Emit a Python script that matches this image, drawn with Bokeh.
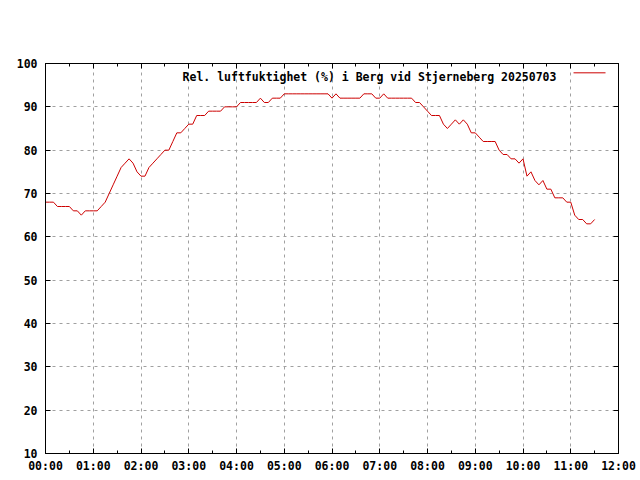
from bokeh.plotting import figure
from bokeh.models import Range1d, FixedTicker, LinearAxis, Label, Arrow, ColumnDataSource
from bokeh.embed import file_html
from bokeh.resources import INLINE

# ---- data (one reading every 5 minutes from 00:00) ----
humidity = [
    68, 68, 68, 67, 67, 67, 67, 66, 66, 65,
    66, 66, 66, 66, 67, 68, 70, 72, 74, 76,
    77, 78, 77, 75, 74, 74, 76, 77, 78, 79,
    80, 80, 82, 84, 84, 85, 86, 86, 88, 88,
    88, 89, 89, 89, 89, 90, 90, 90, 90, 91,
    91, 91, 91, 91, 92, 91, 91, 92, 92, 92,
    93, 93, 93, 93, 93, 93, 93, 93, 93, 93,
    93, 93, 92, 93, 92, 92, 92, 92, 92, 92,
    93, 93, 93, 92, 92, 93, 92, 92, 92, 92,
    92, 92, 92, 91, 91, 90, 89, 88, 88, 88,
    86, 85, 86, 87, 86, 87, 86, 84, 84, 83,
    82, 82, 82, 82, 80, 79, 79, 78, 78, 77,
    78, 74, 75, 73, 72, 73, 71, 71, 69, 69,
    69, 68, 68, 65, 64, 64, 63, 63, 64,
]
step_minutes = 5
minutes = [i * step_minutes for i in range(len(humidity))]

x_ticks = [0, 60, 120, 180, 240, 300, 360, 420, 480, 540, 600, 660, 720]
x_tick_labels = ["00:00", "01:00", "02:00", "03:00", "04:00", "05:00", "06:00",
                 "07:00", "08:00", "09:00", "10:00", "11:00", "12:00"]
x_minor_ticks = [30, 90, 150, 210, 270, 330, 390, 450, 510, 570, 630, 690]
y_ticks = [10, 20, 30, 40, 50, 60, 70, 80, 90, 100]
key_title = "Rel. luftfuktighet (%) i Berg vid Stjerneberg 20250703"

FONT = "DejaVu Sans Mono"
FSIZE = "11.5px"
RED = "#cc0000"

p = figure(width=640, height=480, output_backend="svg", toolbar_location=None,
           x_range=Range1d(0, 720), y_range=Range1d(10, 100),
           min_border_left=45, min_border_right=22,
           min_border_top=63, min_border_bottom=27)
p.background_fill_color = "white"
p.border_fill_color = "white"
p.outline_line_color = "black"
p.outline_line_width = 1
p.outline_line_alpha = 1

xt = FixedTicker(ticks=x_ticks, minor_ticks=x_minor_ticks)
yt = FixedTicker(ticks=y_ticks, minor_ticks=[])

def style_axis(ax, ticker, labels=None):
    ax.ticker = ticker
    ax.axis_line_color = "black"
    ax.major_tick_line_color = "black"
    ax.minor_tick_line_color = "black"
    ax.major_tick_in = 5
    ax.major_tick_out = 0
    ax.minor_tick_in = 3
    ax.minor_tick_out = 0
    ax.major_label_text_font = FONT
    ax.major_label_text_font_style = "bold"
    ax.major_label_text_font_size = FSIZE
    ax.major_label_text_color = "black"
    if labels is not None:
        ax.major_label_overrides = labels

xa = p.xaxis[0]
style_axis(xa, xt, {t: s for t, s in zip(x_ticks, x_tick_labels)})
xa.major_label_standoff = 5

ya = p.yaxis[0]
style_axis(ya, yt, {t: str(t) for t in y_ticks})
ya.major_label_standoff = 8

top = LinearAxis()
style_axis(top, xt, {t: "" for t in x_ticks})
top.major_label_standoff = 0
p.add_layout(top, "above")

right = LinearAxis()
style_axis(right, yt, {t: "" for t in y_ticks})
right.major_label_standoff = 0
p.add_layout(right, "right")

p.xgrid.ticker = xt
p.ygrid.ticker = yt
p.grid.grid_line_color = "#a0a0a0"
p.grid.grid_line_dash = "3 4"
p.grid.grid_line_width = 1

src = ColumnDataSource(data=dict(minutes=minutes, humidity=humidity))
p.line(x="minutes", y="humidity", source=src, line_color=RED, line_width=1)

# key (gnuplot style: text then sample line)
p.add_layout(Label(x=642, y=96.84, text=key_title, text_align="right",
                   text_baseline="alphabetic", text_font=FONT,
                   text_font_style="bold", text_font_size=FSIZE,
                   text_color="black"))
p.add_layout(Arrow(x_start=663.5, y_start=97.85, x_end=703.7, y_end=97.85,
                   end=None, line_color=RED, line_width=1))

open("out.html", "w").write(file_html(p, INLINE))
